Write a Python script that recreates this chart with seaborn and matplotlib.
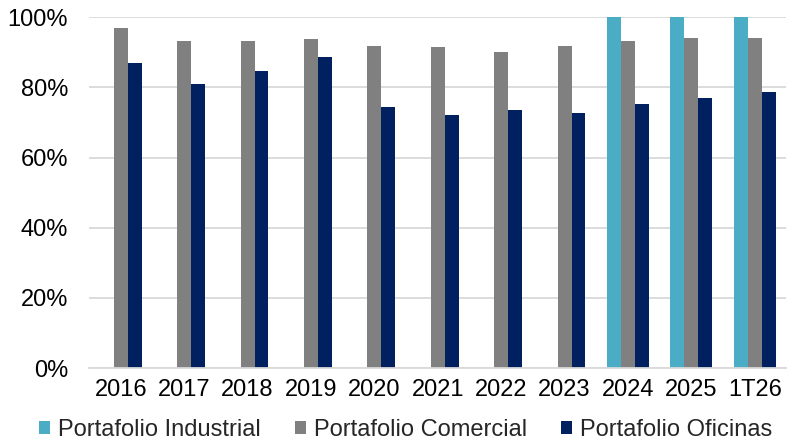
import numpy as np
import pandas as pd
import matplotlib
matplotlib.use("Agg")
import matplotlib.pyplot as plt
import seaborn as sns
from matplotlib.ticker import FuncFormatter, MultipleLocator

# Occupancy by portfolio (%)
periods = ["2016", "2017", "2018", "2019", "2020", "2021", "2022", "2023", "2024", "2025", "1T26"]
industrial = [np.nan, np.nan, np.nan, np.nan, np.nan, np.nan, np.nan, np.nan, 100.0, 100.0, 100.0]
comercial = [96.9, 93.2, 93.1, 93.9, 91.7, 91.4, 90.2, 91.9, 93.2, 94.2, 94.0]
oficinas = [87.1, 80.9, 84.6, 88.7, 74.5, 72.1, 73.7, 72.7, 75.2, 76.9, 78.8]

series_names = ["Portafolio Industrial", "Portafolio Comercial", "Portafolio Oficinas"]
series_colors = ["#4BACC6", "#808080", "#002060"]

df = pd.DataFrame({
    "periodo": periods * 3,
    "serie": [series_names[0]] * len(periods) + [series_names[1]] * len(periods) + [series_names[2]] * len(periods),
    "valor": industrial + comercial + oficinas,
})

sns.set_theme(style="white")
plt.rcParams["font.family"] = ["Liberation Sans", "DejaVu Sans"]

fig = plt.figure(figsize=(7.88, 4.43), dpi=100)
ax = fig.add_axes([0.113, 0.169, 0.885, 0.792])

sns.barplot(
    data=df, x="periodo", y="valor", hue="serie",
    order=periods, hue_order=series_names,
    palette=dict(zip(series_names, series_colors)),
    width=0.66, gap=0, saturation=1, linewidth=0, ax=ax,
)

ax.set_ylim(0, 100)
ax.set_xlim(-0.5, len(periods) - 0.5)
ax.yaxis.set_major_locator(MultipleLocator(20))
ax.yaxis.set_major_formatter(FuncFormatter(lambda v, _: f"{v:.0f}%"))
ax.grid(axis="y", color="#D9D9D9", linewidth=1.3)
ax.set_axisbelow(True)
ax.set_xlabel("")
ax.set_ylabel("")

for side in ["top", "right", "left"]:
    ax.spines[side].set_visible(False)
ax.spines["bottom"].set_color("#D9D9D9")
ax.spines["bottom"].set_linewidth(1.3)

# Category separators as minor ticks on the x axis
ax.set_xticks(np.arange(-0.5, len(periods), 1.0), minor=True)
ax.tick_params(axis="x", which="minor", length=5, width=1.3, color="#D9D9D9", direction="out")
ax.tick_params(axis="x", which="major", length=0, pad=8, labelsize=17, labelcolor="#000000")
ax.tick_params(axis="y", length=0, pad=15, labelsize=17, labelcolor="#000000")

leg = ax.get_legend()
handles = leg.legend_handles
leg.remove()
fig.legend(
    handles, series_names, loc="center", bbox_to_anchor=(0.515, 0.03), ncol=3,
    frameon=False, fontsize=17, handlelength=0.45, handleheight=0.45,
    handletextpad=0.35, columnspacing=1.45, borderpad=0, borderaxespad=0,
)

fig.savefig("out.png", dpi=100)
